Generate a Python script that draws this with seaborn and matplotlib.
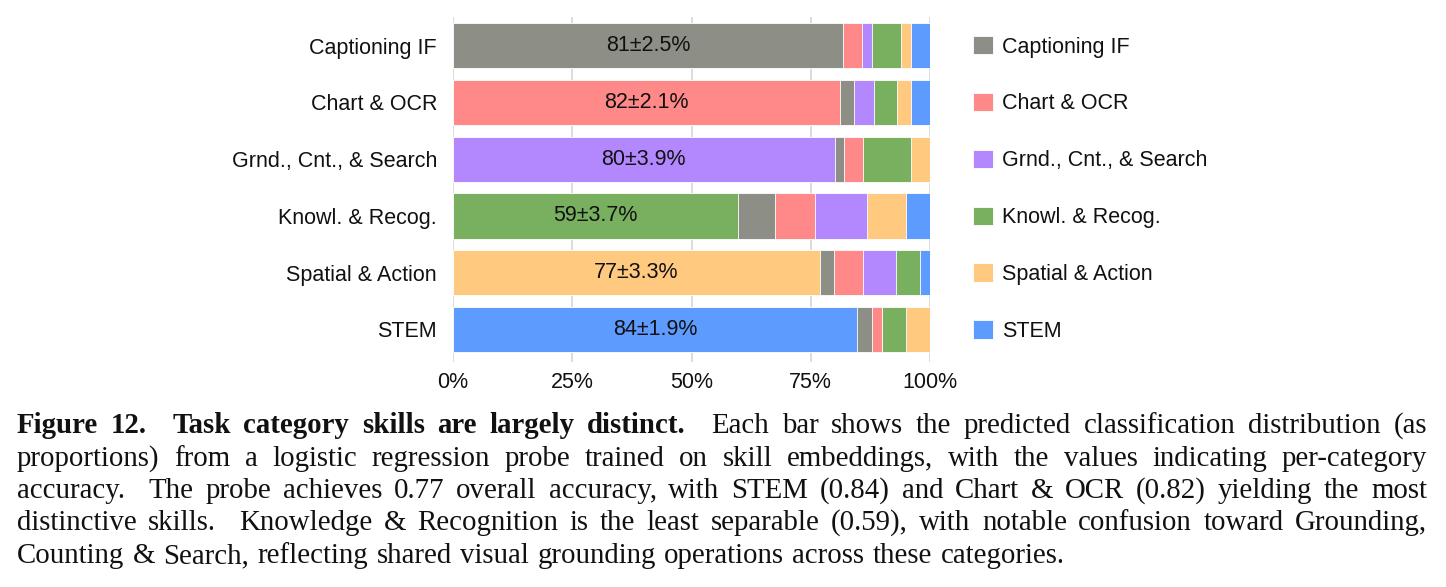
import numpy as np
import pandas as pd
import matplotlib
matplotlib.use("Agg")
import matplotlib.pyplot as plt
import seaborn as sns
from matplotlib.font_manager import FontProperties
from matplotlib.patches import Patch

# ---------------- data ----------------
categories = ["Captioning IF", "Chart & OCR", "Grnd., Cnt., & Search",
              "Knowl. & Recog.", "Spatial & Action", "STEM"]
# predicted-class proportions (%) for each true category, columns in `categories` order
captioning_if = [81.8, 4.0, 2.1, 6.0, 2.1, 4.0]
chart_ocr = [3.0, 81.1, 4.1, 4.9, 3.0, 3.9]
grnd_cnt_search = [2.0, 4.0, 80.0, 10.0, 4.0, 0.0]
knowl_recog = [7.9, 8.2, 11.0, 59.7, 8.1, 5.1]
spatial_action = [3.0, 6.1, 6.9, 5.1, 76.9, 2.0]
stem = [3.0, 2.1, 0.0, 5.1, 5.0, 84.8]
accuracy_labels = ["81±2.5%", "82±2.1%", "80±3.9%", "59±3.7%", "77±3.3%", "84±1.9%"]
x_ticks = [0, 25, 50, 75, 100]
x_tick_labels = ["0%", "25%", "50%", "75%", "100%"]
colors = ["#8D8E86", "#FF8888", "#B388FF", "#78B060", "#FFCA80", "#5E9BFF"]

rows = [captioning_if, chart_ocr, grnd_cnt_search, knowl_recog, spatial_action, stem]

# long table: each row starts with its own class, then the others in legend order
recs = []
for i, (cat, vals) in enumerate(zip(categories, rows)):
    order = [i] + [j for j in range(len(categories)) if j != i]
    cum = 0.0
    for pos, j in enumerate(order):
        cum += vals[j]
        recs.append({"row": cat, "pred": categories[j], "pos": pos,
                     "value": vals[j], "cum": cum})
df = pd.DataFrame(recs)

# ---------------- figure ----------------
sns.set_theme(style="white")
sans = ["Liberation Sans", "DejaVu Sans"]
plt.rcParams["font.family"] = sans

W, H = 1446, 587
fig = plt.figure(figsize=(W / 100, H / 100), dpi=100)
ax = fig.add_axes([453 / W, 1 - 362 / H, (930 - 453) / W, (362 - 17) / H])

palette = dict(zip(categories, colors))
for pos in range(len(categories) - 1, -1, -1):
    sub = df[df["pos"] == pos]
    sns.barplot(data=sub, x="cum", y="row", hue="pred", order=categories,
                hue_order=categories, palette=palette, dodge=False, legend=False,
                orient="y", width=0.8, saturation=1, edgecolor="white",
                linewidth=0.6, ax=ax, zorder=2)

first = df[df["pos"] == 0].set_index("row").loc[categories]
for i, (cat, lab) in enumerate(zip(categories, accuracy_labels)):
    ax.text(first.loc[cat, "value"] / 2, i, lab, ha="center", va="center",
            fontsize=15.5, color="#111111", zorder=3)

ax.set_xlim(0, 100)
ax.set_ylim(5.577, -0.508)
ax.set_xticks(x_ticks)
ax.set_xticklabels(x_tick_labels)
ax.set_xlabel("")
ax.set_ylabel("")
ax.grid(axis="x", color="#d9d9d9", linewidth=1.3, zorder=0)
ax.set_axisbelow(True)
for s in ax.spines.values():
    s.set_visible(False)
ax.tick_params(axis="y", length=0, pad=11.5, labelsize=15.5, labelcolor="#111111")
ax.tick_params(axis="x", length=0, pad=7, labelsize=15.5, labelcolor="#111111")

handles = [Patch(facecolor=c, edgecolor="white", linewidth=0.6) for c in colors]
fig.legend(handles, categories, loc="upper left",
           bbox_to_anchor=(973 / W, 1 - 36 / H), frameon=False,
           fontsize=15.5, borderaxespad=0, borderpad=0, labelspacing=1.64,
           handlelength=0.93, handleheight=0.93, handletextpad=0.42,
           labelcolor="#111111")

# ---------------- caption (justified) ----------------
serif = "Liberation Serif"
fp_r = FontProperties(family=serif, size=20.8)
fp_b = FontProperties(family=serif, size=20.8, weight="bold")
renderer = fig.canvas.get_renderer()

def tw(s, fp):
    return renderer.get_text_width_height_descent(s, fp, ismath=False)[0]

caption_lines = [
    [("Figure 12.", True), ("Task category skills are largely distinct.", True),
     ("Each bar shows the predicted classification distribution (as", False)],
    [("proportions) from a logistic regression probe trained on skill embeddings, with the values indicating per-category", False)],
    [("accuracy.", False), ("The probe achieves 0.77 overall accuracy, with STEM (0.84) and Chart & OCR (0.82) yielding the most", False)],
    [("distinctive skills.", False), ("Knowledge & Recognition is the least separable (0.59), with notable confusion toward Grounding,", False)],
    [("Counting & Search, reflecting shared visual grounding operations across these categories.", False)],
]
baselines = [433, 466, 498, 530, 563]
x0, x1 = 17, 1427

for li, (line, yb) in enumerate(zip(caption_lines, baselines)):
    words = []  # (word, bold, gap weight before)
    for si, (seg, bold) in enumerate(line):
        for wi, w in enumerate(seg.split()):
            weight = 2.0 if (wi == 0 and si > 0) else 1.0
            words.append((w, bold, weight))
    widths = [tw(w, fp_b if b else fp_r) for w, b, _ in words]
    weights = [wt for _, _, wt in words[1:]]
    space = tw("a a", fp_r) - tw("aa", fp_r)
    if li < len(caption_lines) - 1:
        unit = (x1 - x0 - sum(widths)) / sum(weights)
    else:
        unit = space * 1.15
    x = x0
    for k, ((w, b, wt), wd) in enumerate(zip(words, widths)):
        if k > 0:
            x += unit * wt
        fig.text(x / W, 1 - yb / H, w, fontproperties=fp_b if b else fp_r,
                 ha="left", va="baseline", color="#111111")
        x += wd

fig.savefig("out.png", dpi=100)
